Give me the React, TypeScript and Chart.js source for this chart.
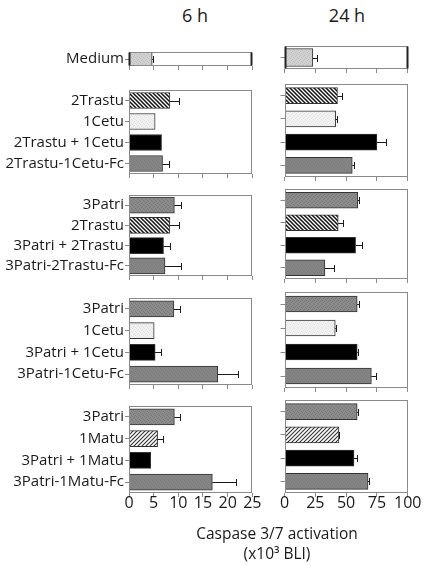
import React, { useEffect, useRef } from "react";
import { Chart, registerables } from "chart.js";
Chart.register(...registerables);

// ---------- data ----------
const timeTitles = ["6 h", "24 h"];
const axisTitle1 = "Caspase 3/7 activation";
const axisTitle2 = "(x10\u00B3 BLI)";
const xMax = [25, 100];
const xStep = [5, 25];

const p1Labels = ["Medium"];
const p1Kinds = ["medium"];
const p1Val6 = [4.7];
const p1Err6 = [0.2];
const p1Val24 = [23];
const p1Err24 = [3.5];

const p2Labels = ["2Trastu", "1Cetu", "2Trastu + 1Cetu", "2Trastu-1Cetu-Fc"];
const p2Kinds = ["trastu", "cetu", "combo", "fc"];
const p2Val6 = [8.3, 5.3, 6.6, 6.8];
const p2Err6 = [1.8, 0, 0, 1.3];
const p2Val24 = [43, 41.5, 75, 55];
const p2Err24 = [3.5, 1, 7, 1.5];

const p3Labels = ["3Patri", "2Trastu", "3Patri + 2Trastu", "3Patri-2Trastu-Fc"];
const p3Kinds = ["patri", "trastu", "combo", "fc"];
const p3Val6 = [9.2, 8.3, 7.0, 7.3];
const p3Err6 = [1.3, 1.8, 1.3, 3.2];
const p3Val24 = [59.5, 43.6, 57.7, 32.8];
const p3Err24 = [1, 3.8, 5.3, 7];

const p4Labels = ["3Patri", "1Cetu", "3Patri + 1Cetu", "3Patri-1Cetu-Fc"];
const p4Kinds = ["patri", "cetu", "combo", "fc"];
const p4Val6 = [9.1, 5.1, 5.3, 18];
const p4Err6 = [1.3, 0, 1.2, 4.2];
const p4Val24 = [59, 41.2, 59, 70.5];
const p4Err24 = [1.2, 0.8, 1, 3.5];

const p5Labels = ["3Patri", "1Matu", "3Patri + 1Matu", "3Patri-1Matu-Fc"];
const p5Kinds = ["patri", "matu", "combo", "fc"];
const p5Val6 = [9.2, 5.8, 4.4, 16.9];
const p5Err6 = [1.2, 1.0, 0, 4.8];
const p5Val24 = [59, 44.2, 56.4, 67.8];
const p5Err24 = [1, 0.3, 2.2, 1];

// ---------- layout ----------
const panelTops = [46, 84.3, 189.3, 292, 400];
const panelBottoms = [69, 177.7, 279.3, 387.7, 492.7];
const colAreaLeft = [129, 284.5];
const colAreaRight = [252.3, 407.7];
const colCanvasLeft = [0, 262];
const colCanvasWidth = [264, 163];
const FONT = "'Open Sans', sans-serif";

// ---------- patterns ----------
const patternCache: Record<string, any> = {};
function tile(size: number, draw: (c: CanvasRenderingContext2D) => void) {
  const cv = document.createElement("canvas");
  cv.width = size;
  cv.height = size;
  const c = cv.getContext("2d")!;
  draw(c);
  return c.createPattern(cv, "repeat");
}
function dots(base: string, dot: string) {
  return tile(4, (c) => {
    c.fillStyle = base;
    c.fillRect(0, 0, 4, 4);
    c.fillStyle = dot;
    c.fillRect(0, 0, 1, 1);
    c.fillRect(2, 1, 1, 1);
    c.fillRect(3, 3, 1, 1);
    c.fillRect(1, 2, 1, 1);
  });
}
function hatch(back: boolean, color: string, w: number) {
  const s = 4;
  return tile(s, (c) => {
    c.fillStyle = "#ffffff";
    c.fillRect(0, 0, s, s);
    c.strokeStyle = color;
    c.lineWidth = w;
    c.beginPath();
    if (back) {
      c.moveTo(-1, -1); c.lineTo(s + 1, s + 1);
      c.moveTo(-1, s - 1); c.lineTo(1, s + 1);
      c.moveTo(s - 1, -1); c.lineTo(s + 1, 1);
    } else {
      c.moveTo(-1, s + 1); c.lineTo(s + 1, -1);
      c.moveTo(-1, 1); c.lineTo(1, -1);
      c.moveTo(s - 1, s + 1); c.lineTo(s + 1, s - 1);
    }
    c.stroke();
  });
}
function fillFor(kind: string): any {
  if (patternCache[kind]) return patternCache[kind];
  let p: any;
  switch (kind) {
    case "combo": p = "#000000"; break;
    case "medium": p = dots("#d2d2d2", "#bdbdbd"); break;
    case "cetu": p = dots("#f2f2f2", "#e0e0e0"); break;
    case "patri": p = dots("#8c8c8c", "#767676"); break;
    case "fc": p = dots("#858585", "#7b7b7b"); break;
    case "trastu": p = hatch(true, "#111111", 1.5); break;
    case "matu": p = hatch(false, "#333333", 1.1); break;
    default: p = "#888888";
  }
  patternCache[kind] = p;
  return p;
}

// ---------- plugin: error bars + panel box ----------
const boxErrPlugin = {
  id: "boxErr",
  afterDatasetsDraw(chart: any, _args: any, opts: any) {
    const { ctx, chartArea: a, scales } = chart;
    const vals = chart.data.datasets[0].data as number[];
    const errs = (opts.errs || []) as number[];
    const meta = chart.getDatasetMeta(0);
    ctx.save();
    ctx.strokeStyle = "#1a1a1a";
    ctx.lineWidth = 1;
    meta.data.forEach((bar: any, i: number) => {
      const e = errs[i];
      if (!e) return;
      const x0 = scales.x.getPixelForValue(vals[i]);
      const x1 = Math.round(scales.x.getPixelForValue(vals[i] + e)) + 0.5;
      const y = Math.round(bar.y) + 0.5;
      ctx.beginPath();
      ctx.moveTo(x0, y);
      ctx.lineTo(x1, y);
      ctx.moveTo(x1, y - 3.5);
      ctx.lineTo(x1, y + 3.5);
      ctx.stroke();
    });
    const l = Math.round(a.left) + 0.5;
    const r = Math.round(a.right) - 0.5;
    const t = Math.round(a.top) + 0.5;
    const b = Math.round(a.bottom) - 0.5;
    ctx.strokeStyle = "#8a8a8a";
    ctx.lineWidth = 1;
    ctx.strokeRect(l, t, r - l, b - t);
    if (opts.medium) {
      ctx.strokeStyle = "#222222";
      ctx.lineWidth = 2;
      ctx.beginPath();
      ctx.moveTo(l, t);
      ctx.lineTo(l, b);
      ctx.moveTo(r, t);
      ctx.lineTo(r, b);
      ctx.stroke();
    }
    ctx.restore();
  },
};

type PanelProps = {
  labels: string[];
  kinds: string[];
  values: number[];
  errs: number[];
  col: number;
  row: number;
};

function Panel({ labels, kinds, values, errs, col, row }: PanelProps) {
  const ref = useRef<HTMLCanvasElement>(null);
  const last = row === 4;
  const medium = row === 0;
  const padTop = 4;
  const xAxisH = last ? 26 : 5;
  const top = panelTops[row] - padTop;
  const height = Math.round(panelBottoms[row] - panelTops[row] + padTop + xAxisH + 2);
  const left = colCanvasLeft[col];
  const width = colCanvasWidth[col];
  const yAxisW = colAreaLeft[col] - left;
  const padRight = left + width - colAreaRight[col];

  useEffect(() => {
    const chart = new Chart(ref.current!, {
      type: "bar",
      data: {
        labels,
        datasets: [
          {
            data: values,
            backgroundColor: kinds.map(fillFor),
            borderColor: "#333333",
            borderWidth: 1,
            borderSkipped: "left",
            barThickness: medium ? 18 : 16,
          },
        ],
      },
      options: {
        indexAxis: "y",
        animation: false,
        responsive: false,
        maintainAspectRatio: false,
        layout: { padding: { top: padTop, right: padRight, left: 0, bottom: 2 } },
        plugins: {
          legend: { display: false },
          tooltip: { enabled: false },
          boxErr: { errs, medium },
        } as any,
        scales: {
          x: {
            type: "linear",
            min: 0,
            max: xMax[col],
            ticks: {
              stepSize: xStep[col],
              display: last,
              font: { family: FONT, size: 16 },
              color: "#1a1a1a",
              padding: -3,
              maxRotation: 0,
            },
            grid: {
              display: true,
              drawOnChartArea: false,
              drawTicks: true,
              tickLength: 4,
              color: "#8a8a8a",
            },
            border: { display: false },
            afterFit: (s: any) => {
              s.height = xAxisH;
            },
          },
          y: {
            type: "category",
            offset: true,
            ticks: {
              display: col === 0,
              font: { family: FONT, size: 15 },
              color: "#1a1a1a",
              padding: 1,
            },
            grid: {
              display: true,
              offset: false,
              drawOnChartArea: false,
              drawTicks: true,
              tickLength: 4,
              color: "#8a8a8a",
            },
            border: { display: false },
            afterFit: (s: any) => {
              s.width = yAxisW;
            },
          },
        },
      } as any,
      plugins: [boxErrPlugin],
    });
    return () => chart.destroy();
  }, []);

  return (
    <canvas
      ref={ref}
      width={width}
      height={height}
      style={{ position: "absolute", left, top, width, height }}
    />
  );
}

const panels = [
  { labels: p1Labels, kinds: p1Kinds, v: [p1Val6, p1Val24], e: [p1Err6, p1Err24] },
  { labels: p2Labels, kinds: p2Kinds, v: [p2Val6, p2Val24], e: [p2Err6, p2Err24] },
  { labels: p3Labels, kinds: p3Kinds, v: [p3Val6, p3Val24], e: [p3Err6, p3Err24] },
  { labels: p4Labels, kinds: p4Kinds, v: [p4Val6, p4Val24], e: [p4Err6, p4Err24] },
  { labels: p5Labels, kinds: p5Kinds, v: [p5Val6, p5Val24], e: [p5Err6, p5Err24] },
];

const textStyle: React.CSSProperties = {
  position: "absolute",
  fontFamily: FONT,
  color: "#1a1a1a",
  whiteSpace: "nowrap",
  transform: "translateX(-50%)",
  lineHeight: "20px",
};

export default function App() {
  return (
    <div
      style={{
        position: "absolute",
        left: 0,
        top: 0,
        width: 425,
        height: 566,
        background: "#ffffff",
        overflow: "hidden",
      }}
    >
      <div style={{ ...textStyle, left: 195, top: 5, fontSize: 18 }}>{timeTitles[0]}</div>
      <div style={{ ...textStyle, left: 347, top: 5, fontSize: 18 }}>{timeTitles[1]}</div>
      {panels.map((p, row) =>
        [0, 1].map((col) => (
          <Panel
            key={`${row}-${col}`}
            labels={p.labels}
            kinds={p.kinds}
            values={p.v[col]}
            errs={p.e[col]}
            col={col}
            row={row}
          />
        ))
      )}
      <div style={{ ...textStyle, left: 277, top: 523, fontSize: 15.5 }}>{axisTitle1}</div>
      <div style={{ ...textStyle, left: 277, top: 543, fontSize: 15.5 }}>{axisTitle2}</div>
    </div>
  );
}
